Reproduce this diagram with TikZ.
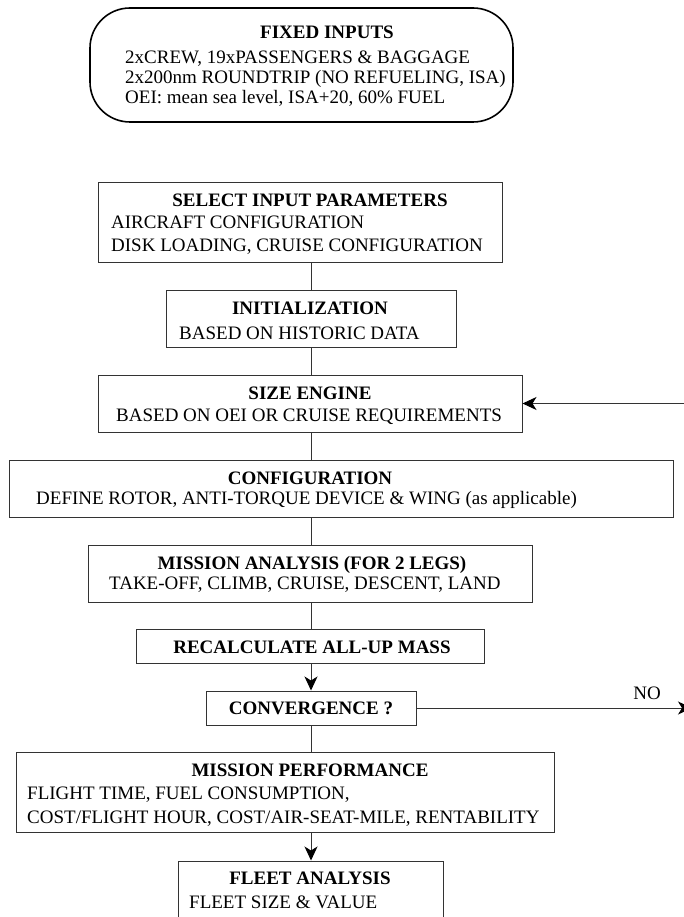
\documentclass[tikz,border=0pt]{standalone}
\usepackage{fontspec}
\setmainfont{Liberation Serif}
\usetikzlibrary{arrows.meta}

\begin{document}
\begin{tikzpicture}[x=1pt,y=-1pt]
        \tikzstyle{box}=[rectangle,draw=black!80,line width=1pt,inner sep=0pt]
        \tikzstyle{start}=[rectangle,rounded corners=40pt,draw=black,line width=1.6pt,inner sep=0pt]
        \tikzstyle{ttl}=[inner sep=0pt,font=\fontsize{19}{23}\selectfont\bfseries]
        \tikzstyle{txt}=[inner sep=0pt,anchor=west,align=left,font=\fontsize{19}{23.5}\selectfont]
        \tikzstyle{edge}=[draw=black!80,line width=1pt]
        \tikzstyle{flow}=[edge,-{Stealth[length=14pt,width=13pt,inset=4pt,black]}]

        \useasboundingbox (0,0) rectangle (683,917);
        \coordinate (spine) at (311,0);

        \node [start, minimum width=423, minimum height=114] (fix) at (301.5,65) {};
        \node [ttl] (fixT) at (327,32) {FIXED INPUTS};
        \node [txt, font=\fontsize{19}{20}\selectfont] (fixB) at (125,79) {2xCREW, 19xPASSENGERS \& BAGGAGE\\2x200nm ROUNDTRIP (NO REFUELING, ISA)\\OEI: mean sea level, ISA+20, 60\% FUEL};

        \node [box, minimum width=404, minimum height=79] (sel) at (300,222.5) {};
        \node [ttl] (selT) at (310,200) {SELECT INPUT PARAMETERS};
        \node [txt] (selB) at (111,235) {AIRCRAFT CONFIGURATION\\DISK LOADING, CRUISE CONFIGURATION};

        \node [box, minimum width=290, minimum height=57] (init) at (311,318.5) {};
        \node [ttl] (initT) at (310,308) {INITIALIZATION};
        \node [txt] (initB) at (179,333) {BASED ON HISTORIC DATA};

        \node [box, minimum width=424, minimum height=57] (size) at (310,403.5) {};
        \node [ttl] (sizeT) at (310,393) {SIZE ENGINE};
        \node [txt] (sizeB) at (116,417) {BASED ON OEI OR CRUISE REQUIREMENTS};

        \node [box, minimum width=664, minimum height=57] (conf) at (341,488.5) {};
        \node [ttl] (confT) at (310,478) {CONFIGURATION};
        \node [txt] (confB) at (36,500) {DEFINE ROTOR, ANTI-TORQUE DEVICE \& WING (as applicable)};

        \node [box, minimum width=444, minimum height=57] (miss) at (310,573.5) {};
        \node [ttl] (missT) at (312,565) {MISSION ANALYSIS (FOR 2 LEGS)};
        \node [txt] (missB) at (109,585) {TAKE-OFF, CLIMB, CRUISE, DESCENT, LAND};

        \node [box, minimum width=348, minimum height=34] (recalc) at (310,646) {};
        \node [ttl] (recalcT) at (312,647) {RECALCULATE ALL-UP MASS};

        \node [box, minimum width=210, minimum height=34] (conv) at (311,708) {};
        \node [ttl] (convT) at (311,708) {CONVERGENCE ?};

        \node [box, minimum width=538, minimum height=80] (perf) at (285,792) {};
        \node [ttl] (perfT) at (310,770) {MISSION PERFORMANCE};
        \node [txt] (perfB) at (27,806.5) {FLIGHT TIME, FUEL CONSUMPTION,\\COST/FLIGHT HOUR, COST/AIR-SEAT-MILE, RENTABILITY};

        \node [box, minimum width=265, minimum height=58] (fleet) at (310.5,890) {};
        \node [ttl] (fleetT) at (310,878) {FLEET ANALYSIS};
        \node [txt] (fleetB) at (189,902) {FLEET SIZE \& VALUE};

        \foreach \a/\b in {sel/init,init/size,size/conf,conf/miss,miss/recalc,conv/perf}
          \draw [edge] (\a.south -| spine) -- (\b.north -| spine);
        \draw [flow] (recalc.south -| spine) -- (conv.north -| spine);
        \draw [flow] (perf.south -| spine) -- (fleet.north -| spine);

        % loop back, runs off the right edge
        \coordinate (noexit) at (692,708);
        \coordinate (back) at (700,403.5);
        \draw [flow] (conv.east) -- (noexit);
        \node [font=\fontsize{19}{23}\selectfont, inner sep=0pt] (no) at (647,693) {NO};
        \draw [flow] (back) -- (size.east);
\end{tikzpicture}
\end{document}
